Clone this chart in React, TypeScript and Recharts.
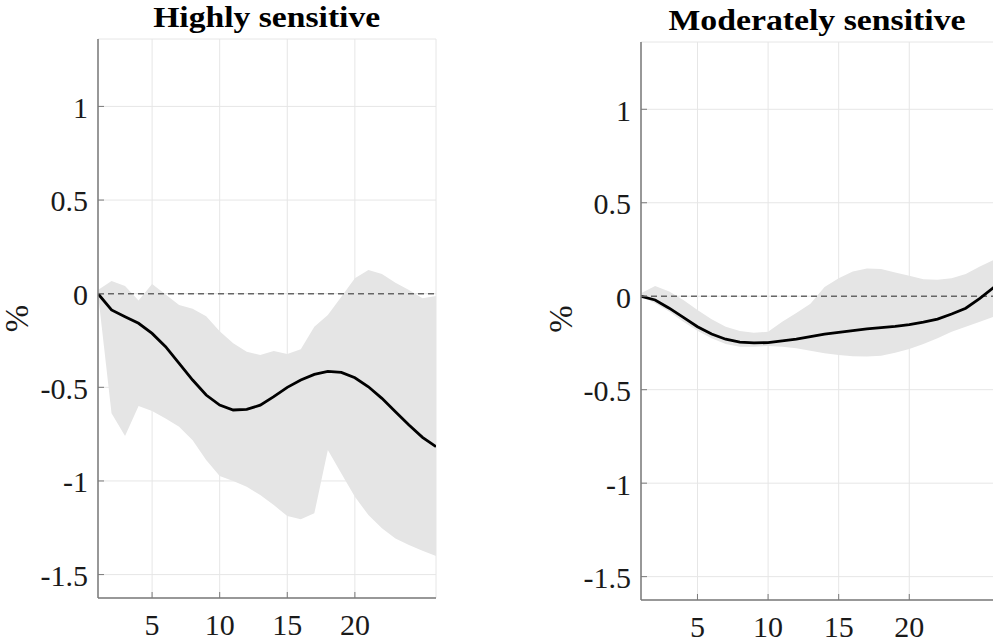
import React from "react"
import {
  Area,
  CartesianGrid,
  ComposedChart,
  Line,
  ReferenceLine,
  XAxis,
  YAxis,
} from "recharts"

const horizons = [1, 2, 3, 4, 5, 6, 7, 8, 9, 10, 11, 12, 13, 14, 15, 16, 17, 18, 19, 20, 21, 22, 23, 24, 25, 26]

// Highly sensitive panel
const highlyMedian = [0, -0.087, -0.123, -0.158, -0.212, -0.283, -0.372, -0.461, -0.541, -0.595, -0.621, -0.618, -0.595, -0.55, -0.5, -0.461, -0.431, -0.415, -0.42, -0.449, -0.497, -0.559, -0.63, -0.701, -0.767, -0.817]
const highlyLower = [0, -0.639, -0.76, -0.6, -0.627, -0.666, -0.71, -0.782, -0.888, -0.974, -1.0, -1.031, -1.075, -1.129, -1.187, -1.205, -1.173, -0.835, -0.96, -1.084, -1.182, -1.253, -1.307, -1.342, -1.373, -1.401]
const highlyUpper = [0.02, 0.068, 0.041, -0.037, 0.052, -0.005, -0.06, -0.08, -0.12, -0.2, -0.265, -0.31, -0.327, -0.306, -0.322, -0.297, -0.176, -0.114, -0.016, 0.082, 0.127, 0.105, 0.059, 0.02, -0.025, -0.012]

// Moderately sensitive panel
const moderatelyMedian = [0, -0.02, -0.064, -0.113, -0.163, -0.202, -0.23, -0.246, -0.25, -0.248, -0.239, -0.229, -0.216, -0.203, -0.193, -0.184, -0.175, -0.168, -0.161, -0.152, -0.139, -0.122, -0.095, -0.064, -0.011, 0.048]
const moderatelyLower = [0, -0.037, -0.082, -0.136, -0.184, -0.225, -0.255, -0.27, -0.27, -0.266, -0.27, -0.278, -0.291, -0.305, -0.314, -0.321, -0.323, -0.318, -0.302, -0.282, -0.255, -0.225, -0.19, -0.163, -0.136, -0.109]
const moderatelyUpper = [0.016, 0.055, 0.025, -0.02, -0.073, -0.123, -0.163, -0.186, -0.195, -0.19, -0.136, -0.09, -0.04, 0.05, 0.096, 0.132, 0.148, 0.146, 0.127, 0.109, 0.091, 0.088, 0.096, 0.119, 0.159, 0.195]

const xTicks = [5, 10, 15, 20]
const yTicks = [-1.5, -1, -0.5, 0, 0.5, 1]
const yDomain: [number, number] = [-1.625, 1.36]

const font = '"Liberation Serif", "Times New Roman", serif'
const axisColor = "#7a7a7a"
const tickFont = 30

function buildRows(mid: number[], lo: number[], hi: number[]) {
  return horizons.map((h, i) => ({ h, mid: mid[i], band: [lo[i], hi[i]] }))
}

const XTick = (props: any) => {
  const { x, y, payload } = props
  return (
    <g>
      <line x1={x} x2={x} y1={y - 8} y2={y - 14} stroke={axisColor} />
      <text x={x} y={y + 29} textAnchor="middle" fontSize={tickFont} fontFamily={font} fill="#1a1a1a">
        {payload.value}
      </text>
    </g>
  )
}

const YTick = (props: any) => {
  const { x, y, payload } = props
  return (
    <g>
      <line x1={x + 10} x2={x + 16} y1={y} y2={y} stroke={axisColor} />
      <text x={x} y={y} dy="0.38em" textAnchor="end" fontSize={tickFont} fontFamily={font} fill="#1a1a1a">
        {payload.value}
      </text>
    </g>
  )
}

interface PanelProps {
  rows: any[]
  left: number
  top: number
  width: number
  height: number
  right: number
  axisWidth: number
}

function Panel({ rows, left, top, width, height, right, axisWidth }: PanelProps) {
  return (
    <div style={{ position: "absolute", left, top }}>
      <ComposedChart
        width={width}
        height={height}
        data={rows}
        margin={{ top: 39, right, bottom: 0, left: 0 }}
      >
        <CartesianGrid stroke="#e6e6e6" />
        <XAxis
          dataKey="h"
          type="number"
          domain={[1, 26]}
          ticks={xTicks}
          interval={0}
          allowDataOverflow
          height={46}
          axisLine={{ stroke: axisColor, strokeWidth: 1.5 }}
          tickLine={false}
          tickSize={0}
          tickMargin={8}
          tick={<XTick />}
        />
        <YAxis
          type="number"
          domain={yDomain}
          ticks={yTicks}
          interval={0}
          allowDataOverflow
          width={axisWidth}
          axisLine={{ stroke: axisColor, strokeWidth: 1.5 }}
          tickLine={false}
          tickSize={0}
          tickMargin={10}
          tick={<YTick />}
        />
        <Area
          dataKey="band"
          type="linear"
          stroke="none"
          fill="#e5e5e5"
          fillOpacity={1}
          isAnimationActive={false}
        />
        <ReferenceLine y={0} stroke="#666" strokeDasharray="6 4" strokeWidth={1.5} />
        <Line
          dataKey="mid"
          type="linear"
          stroke="#000"
          strokeWidth={2.8}
          dot={false}
          isAnimationActive={false}
        />
      </ComposedChart>
    </div>
  )
}

export default function App() {
  const highly = buildRows(highlyMedian, highlyLower, highlyUpper)
  const moderately = buildRows(moderatelyMedian, moderatelyLower, moderatelyUpper)
  return (
    <div
      style={{
        position: "fixed",
        left: 0,
        top: 0,
        width: 993,
        height: 644,
        overflow: "hidden",
        background: "#fff",
      }}
    >
      <Panel rows={highly} left={0} top={0} width={450} height={644} right={14} axisWidth={98} />
      <Panel rows={moderately} left={540} top={3} width={460} height={643} right={6} axisWidth={101} />
      <svg
        width={993}
        height={644}
        style={{ position: "absolute", left: 0, top: 0, pointerEvents: "none" }}
      >
        <text x={266.7} y={27} textAnchor="middle" fontSize={30} fontWeight="bold" fontFamily={font} fill="#000" textLength={227} lengthAdjust="spacingAndGlyphs">
          Highly sensitive
        </text>
        <text x={817} y={30} textAnchor="middle" fontSize={30} fontWeight="bold" fontFamily={font} fill="#000" textLength={297} lengthAdjust="spacingAndGlyphs">
          Moderately sensitive
        </text>
        <text transform="translate(17,318.5) rotate(-90)" textAnchor="middle" dominantBaseline="central" fontSize={33} fontFamily={font} fill="#1a1a1a">
          %
        </text>
        <text transform="translate(560.5,319) rotate(-90)" textAnchor="middle" dominantBaseline="central" fontSize={33} fontFamily={font} fill="#1a1a1a">
          %
        </text>
      </svg>
    </div>
  )
}
